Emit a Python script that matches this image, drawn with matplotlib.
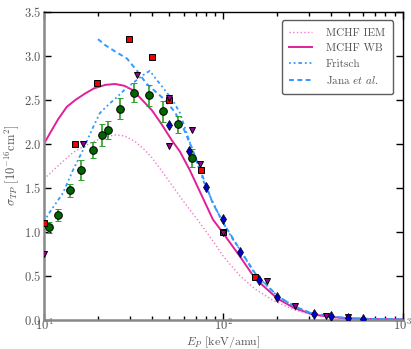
import matplotlib
matplotlib.use("Agg")
import matplotlib.pyplot as plt
from matplotlib.ticker import LogLocator, MultipleLocator, NullFormatter

plt.rcParams['font.family'] = 'serif'
plt.rcParams['font.serif'] = ['cmr10', 'DejaVu Serif']
plt.rcParams['mathtext.fontset'] = 'cm'
plt.rcParams['axes.formatter.use_mathtext'] = True
plt.rcParams['axes.unicode_minus'] = False

# ---- theory curves ----
iem_E = [10, 12, 14.5, 17, 19.7, 22, 25, 28, 32, 36, 40, 45, 50, 57.3, 65, 74, 87, 100,
         123.6, 150, 189, 250, 315, 400, 500, 700, 1000]
iem_y = [1.60, 1.75, 1.90, 1.98, 2.04, 2.08, 2.10, 2.09, 2.03, 1.94, 1.84, 1.70, 1.57, 1.40,
         1.25, 1.10, 0.90, 0.72, 0.50, 0.35, 0.22, 0.11, 0.055, 0.027, 0.013, 0.005, 0.002]

wb_E = [10, 10.8, 12, 13.4, 15, 16.9, 19, 22, 24.9, 28, 31.3, 35.6, 40, 45, 51.6, 57.3, 65,
        75, 87.4, 100, 123.6, 150, 200, 250, 315, 400, 500, 700, 1000]
wb_y = [2.00, 2.12, 2.28, 2.42, 2.50, 2.57, 2.63, 2.67, 2.68, 2.66, 2.61, 2.49, 2.38, 2.23,
        2.04, 1.91, 1.70, 1.43, 1.14, 0.98, 0.72, 0.47, 0.24, 0.13, 0.06, 0.03, 0.015, 0.006, 0.003]

fritsch_E = [10, 11, 12.76, 14.5, 16.5, 18.5, 20.5, 23, 25.5, 28, 31.3, 35, 38.9, 42, 46, 52,
             57.3, 63.4, 70, 80, 95.6, 110, 125, 150, 200, 250, 300, 400, 500, 700, 1000]
fritsch_y = [1.12, 1.25, 1.44, 1.70, 1.93, 2.16, 2.35, 2.45, 2.53, 2.61, 2.69, 2.77, 2.83, 2.74,
             2.64, 2.50, 2.35, 2.08, 1.83, 1.50, 1.17, 0.95, 0.78, 0.52, 0.27, 0.15, 0.08, 0.035,
             0.017, 0.007, 0.003]

jana_E = [20, 22, 24.9, 29, 33, 37.4, 47.2, 53.7, 59.5, 66.8, 75, 87, 100, 125, 150, 200, 250,
          300, 400, 500, 700, 1000]
jana_y = [3.19, 3.12, 3.05, 2.97, 2.83, 2.68, 2.50, 2.36, 2.19, 1.95, 1.68, 1.33, 1.10, 0.78,
          0.53, 0.27, 0.15, 0.085, 0.035, 0.017, 0.007, 0.003]

# ---- experimental data ----
green_E = [10.66, 11.97, 13.96, 16.07, 18.77, 21.04, 22.7, 26.5, 31.7, 38.45, 46.1, 55.8, 66.8]
green_y = [1.05, 1.19, 1.47, 1.70, 1.93, 2.10, 2.16, 2.40, 2.58, 2.55, 2.37, 2.22, 1.84]
green_err = [0.06, 0.07, 0.07, 0.11, 0.09, 0.13, 0.10, 0.12, 0.11, 0.12, 0.12, 0.10, 0.10]

red_E = [10.0, 14.88, 19.75, 29.8, 39.9, 49.7, 75.0, 100, 149.9]
red_y = [1.10, 2.00, 2.69, 3.19, 2.99, 2.50, 1.70, 1.00, 0.49]

tri_E = [10.0, 16.5, 33.0, 49.7, 49.7, 66.8, 74.0, 100, 174.6, 250, 372, 494]
tri_y = [0.75, 2.00, 2.78, 2.52, 1.97, 2.16, 1.77, 0.98, 0.44, 0.16, 0.045, 0.03]

dia_E = [49.7, 64.4, 79.8, 100, 123.6, 157.4, 198.6, 320, 398, 494, 598]
dia_y = [2.21, 1.92, 1.51, 1.15, 0.77, 0.45, 0.26, 0.07, 0.04, 0.02, 0.01]

fig = plt.figure(figsize=(4.11, 3.49), dpi=100)
ax = fig.add_axes([0.107, 0.084, 0.873, 0.882])

ax.plot(iem_E, iem_y, ls=':', color='#f07cc8', lw=1.0, label='MCHF IEM', zorder=2)
ax.plot(wb_E, wb_y, ls='-', color='#e0209a', lw=1.4, label='MCHF WB', zorder=2)
ax.plot(fritsch_E, fritsch_y, ls=(0, (1, 1.6, 1, 1.6, 2, 1.6)), color='#3399ff', lw=1.3,
        label='Fritsch', zorder=2)
ax.plot(jana_E, jana_y, ls=(0, (2.5, 1.8)), color='#3399ff', lw=1.4,
        label=r'Jana $et$ $al.$', zorder=2)

ax.errorbar(green_E, green_y, yerr=green_err, fmt='o', ms=5.5, mfc='#006400', mec='black',
            mew=0.7, ecolor='#2ca02c', elinewidth=1.2, capsize=2, capthick=1.0, zorder=4,
            clip_on=False)
ax.plot(red_E, red_y, ls='none', marker='s', ms=5, mfc='#ee0000', mec='black', mew=0.7,
        zorder=5)
ax.plot(tri_E, tri_y, ls='none', marker='v', ms=5, mfc='#990099', mec='black', mew=0.7,
        zorder=6)
ax.plot(dia_E, dia_y, ls='none', marker='d', ms=5, mfc='#0000cc', mec='black', mew=0.5,
        zorder=6)

ax.set_xscale('log')
ax.set_xlim(10, 1000)
ax.set_ylim(0, 3.5)
ax.yaxis.set_major_locator(MultipleLocator(0.5))
ax.xaxis.set_minor_locator(LogLocator(base=10, subs=range(2, 10)))
ax.xaxis.set_minor_formatter(NullFormatter())

txtc = '#555555'
ax.tick_params(which='both', direction='in', top=True, right=True, labelcolor=txtc,
               labelsize=9)
ax.tick_params(which='major', length=5, width=1)
ax.tick_params(which='minor', length=3, width=1)
ax.tick_params(axis='x', pad=-1)
ax.tick_params(axis='y', pad=2)

for s in ['left', 'bottom']:
    ax.spines[s].set_color('#888888')
    ax.spines[s].set_linewidth(1.8)
for s in ['top', 'right']:
    ax.spines[s].set_color('black')
    ax.spines[s].set_linewidth(1.0)

ax.set_xlabel(r'$E_P$ [keV/amu]', color=txtc, fontsize=8.5)
ax.xaxis.set_label_coords(0.5, -0.047)
ax.set_ylabel(r'$\sigma_{TP}$ [$10^{-16}$cm$^2$]', color=txtc, fontsize=9, labelpad=2)

leg = ax.legend(loc='upper right', fontsize=8, frameon=True, fancybox=True,
                edgecolor='#333333', handlelength=2.0, handletextpad=1.3, borderpad=0.7,
                labelspacing=0.5, bbox_to_anchor=(0.988, 0.99))
for t in leg.get_texts():
    t.set_color(txtc)
leg.get_frame().set_linewidth(1.0)

fig.savefig('out.png', dpi=100)
